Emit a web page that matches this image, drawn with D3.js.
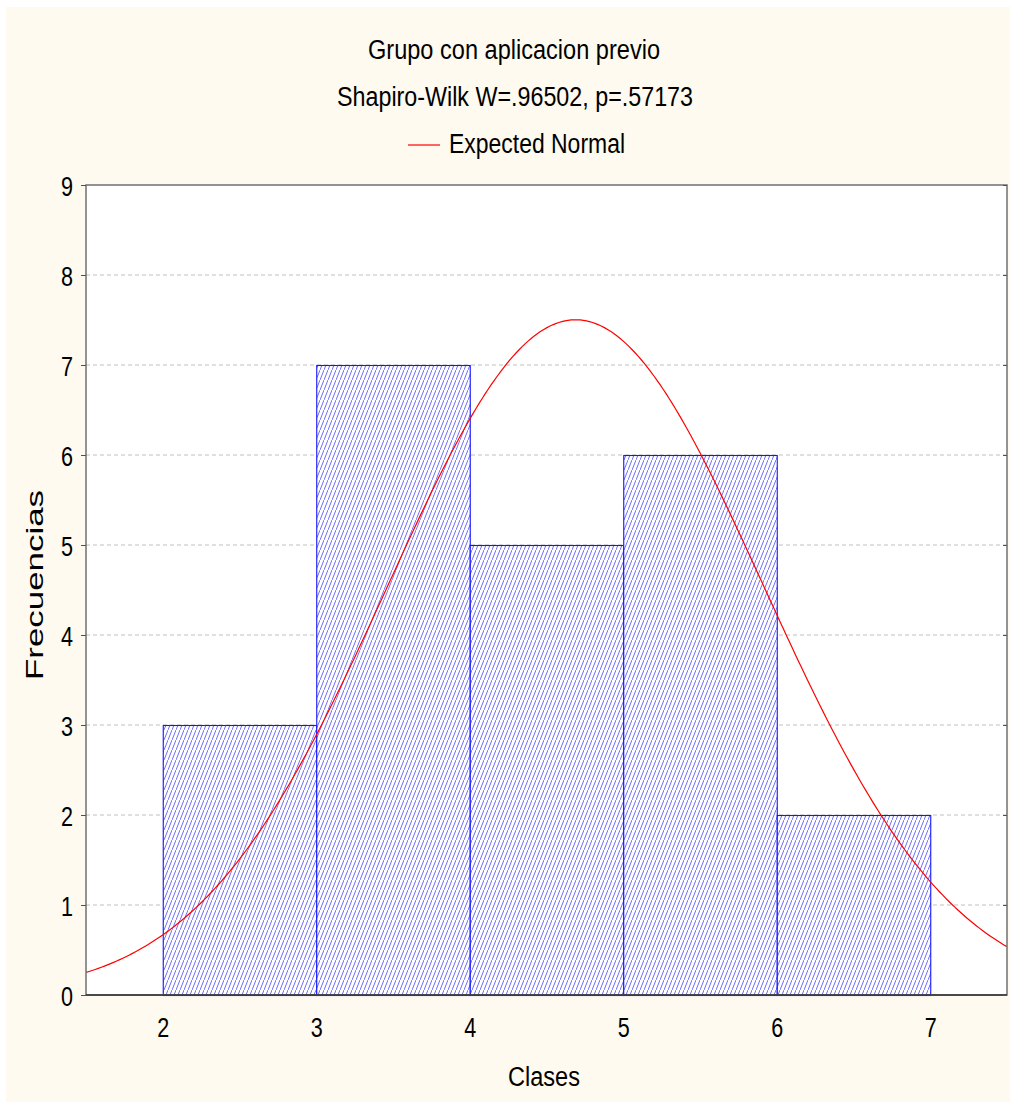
<!DOCTYPE html>
<html>
<head>
<meta charset="utf-8">
<script src="https://cdn.jsdelivr.net/npm/d3@7"></script>
<style>
body { margin: 0; background: #fff; }
text { font-family: "Liberation Sans", Arial, sans-serif; fill: #000; }
</style>
</head>
<body>
<svg id="chart" width="1010" height="1103"></svg>
<script>
// histogram data
var binStarts = [2, 3, 4, 5, 6];
var binWidth = 1;
var counts = [3, 7, 5, 6, 2];
var xTicks = [2, 3, 4, 5, 6, 7];
var yTicks = [0, 1, 2, 3, 4, 5, 6, 7, 8, 9];
// expected normal params
var normMean = 4.69;
var normSd = 1.223;

var svg = d3.select("#chart");
svg.append("rect").attr("x", 6).attr("y", 7).attr("width", 1004).attr("height", 1095).attr("fill", "#fefaf0");

var m = {left: 86, right: 1007, top: 185, bottom: 995};
var x = d3.scaleLinear().domain([1.5, 7.5]).range([m.left, m.right]);
var y = d3.scaleLinear().domain([0, 9]).range([m.bottom, m.top]);

var defs = svg.append("defs");
var pat = defs.append("pattern").attr("id", "hatch").attr("patternUnits", "userSpaceOnUse")
    .attr("width", 4).attr("height", 10);
pat.append("rect").attr("width", 4).attr("height", 10).attr("fill", "#fff");
pat.append("path").attr("d", "M-1,12.5 L5,-2.5").attr("stroke", "#6464ff").attr("stroke-width", 0.95);
defs.append("clipPath").attr("id", "plotclip").append("rect")
    .attr("x", m.left).attr("y", m.top).attr("width", m.right - m.left).attr("height", m.bottom - m.top);

svg.append("rect").attr("x", m.left).attr("y", m.top).attr("width", m.right - m.left)
    .attr("height", m.bottom - m.top).attr("fill", "#fff");

// grid
svg.append("g").selectAll("line").data(yTicks.slice(1, -1)).enter().append("line")
    .attr("x1", m.left).attr("x2", m.right)
    .attr("y1", function(d) { return y(d); }).attr("y2", function(d) { return y(d); })
    .attr("stroke", "#c0c0c0").attr("stroke-dasharray", "4,3");

// bars
svg.append("g").selectAll("rect").data(counts).enter().append("rect")
    .attr("x", function(d, i) { return x(binStarts[i]) + 0.5; })
    .attr("y", function(d) { return y(d) + 0.5; })
    .attr("width", function(d, i) { return x(binStarts[i] + binWidth) - x(binStarts[i]); })
    .attr("height", function(d) { return y(0) - y(d); })
    .attr("fill", "url(#hatch)").attr("stroke", "#1414ff").attr("stroke-width", 1.1);

// normal curve
var pts = d3.range(1.5, 7.51, 0.02).map(function(v) {
    var total = d3.sum(counts) * binWidth;
    var z = (v - normMean) / normSd;
    return [v, total / (normSd * Math.sqrt(2 * Math.PI)) * Math.exp(-z * z / 2)];
});
svg.append("path").datum(pts).attr("clip-path", "url(#plotclip)")
    .attr("d", d3.line().x(function(d) { return x(d[0]); }).y(function(d) { return y(d[1]); }))
    .attr("fill", "none").attr("stroke", "#ff0000").attr("stroke-width", 1.2);

// frame
svg.append("rect").attr("x", m.left).attr("y", m.top).attr("width", m.right - m.left)
    .attr("height", m.bottom - m.top).attr("fill", "none").attr("stroke", "#707070").attr("stroke-width", 1.5);
svg.append("line").attr("x1", m.left).attr("x2", m.right).attr("y1", m.bottom).attr("y2", m.bottom)
    .attr("stroke", "#303030").attr("stroke-width", 1.5);

// axes
var yAxis = d3.axisLeft(y).tickValues(yTicks).tickSize(5).tickPadding(8).tickFormat(d3.format("d"));
var gy = svg.append("g").attr("transform", "translate(" + m.left + ",0)").call(yAxis);
gy.select(".domain").remove();
gy.selectAll("line").attr("stroke", "#505050");
gy.selectAll("text").style("font-size", "28px").attr("dy", "0.36em")
    .attr("textLength", 12).attr("lengthAdjust", "spacingAndGlyphs");

var yAxisR = d3.axisRight(y).tickValues(yTicks).tickSize(4).tickFormat("");
var gyr = svg.append("g").attr("transform", "translate(" + m.right + ",0)").call(yAxisR);
gyr.select(".domain").remove();
gyr.selectAll("line").attr("stroke", "#505050").attr("transform", "translate(-4,0)");

var xAxis = d3.axisBottom(x).tickValues(xTicks).tickSize(0).tickPadding(22).tickFormat(d3.format("d"));
var gx = svg.append("g").attr("transform", "translate(0," + m.bottom + ")").call(xAxis);
gx.select(".domain").remove();
gx.selectAll("text").style("font-size", "28px")
    .attr("textLength", 12).attr("lengthAdjust", "spacingAndGlyphs");

// titles (narrow face emulated with textLength)
function label(tx, ty, str, len, anchor) {
    return svg.append("text").attr("x", tx).attr("y", ty).attr("text-anchor", anchor || "middle")
        .style("font-size", "27px").attr("textLength", len).attr("lengthAdjust", "spacingAndGlyphs").text(str);
}
label(514, 59, "Grupo con aplicacion previo", 292);
label(515, 106, "Shapiro-Wilk W=.96502, p=.57173", 356);
svg.append("line").attr("x1", 408).attr("x2", 440).attr("y1", 145).attr("y2", 145)
    .attr("stroke", "#ff0000").attr("stroke-width", 1.2);
label(449, 153, "Expected Normal", 176, "start");
label(544, 1086, "Clases", 72);

svg.append("text").attr("transform", "translate(43,585) rotate(-90)").attr("text-anchor", "middle")
    .style("font-size", "24px").attr("textLength", 190).attr("lengthAdjust", "spacingAndGlyphs")
    .text("Frecuencias");
</script>
</body>
</html>
